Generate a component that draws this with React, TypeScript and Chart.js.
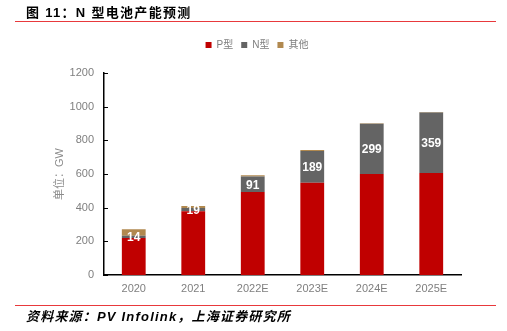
import React, { useEffect, useRef } from "react";
import { Chart, registerables } from "chart.js";

Chart.register(...registerables);

const categories = ["2020", "2021", "2022E", "2023E", "2024E", "2025E"];
const pType = [220, 379, 494, 548, 601, 607];
const nType = [14, 19, 91, 189, 299, 359];
const other = [38, 13, 8, 7, 3, 4];
const yTicks = [0, 200, 400, 600, 800, 1000, 1200];

const FONT = "'Liberation Sans', 'Noto Sans CJK SC', sans-serif";

const innerTicks = {
  id: "innerTicks",
  afterDraw(chart: any) {
    const y = chart.scales.y;
    const ctx = chart.ctx;
    ctx.save();
    ctx.strokeStyle = "#000";
    ctx.lineWidth = 1;
    y.ticks.forEach((t: any) => {
      const py = Math.round(y.getPixelForValue(t.value)) + 0.5;
      ctx.beginPath();
      ctx.moveTo(y.right, py);
      ctx.lineTo(y.right + 4, py);
      ctx.stroke();
    });
    ctx.restore();
  },
};

const nLabels = {
  id: "nLabels",
  afterDatasetsDraw(chart: any) {
    const meta = chart.getDatasetMeta(1);
    const ctx = chart.ctx;
    ctx.save();
    ctx.fillStyle = "#fff";
    ctx.font = `bold 12px ${FONT}`;
    ctx.textAlign = "center";
    ctx.textBaseline = "middle";
    meta.data.forEach((el: any, i: number) => {
      const { x, y, base } = el.getProps(["x", "y", "base"], true);
      ctx.fillText(String(nType[i]), x, (y + base) / 2 + 1);
    });
    ctx.restore();
  },
};

export default function App() {
  const ref = useRef<HTMLCanvasElement>(null);
  useEffect(() => {
    document.body.style.margin = "0";
    const chart = new Chart(ref.current as HTMLCanvasElement, {
      type: "bar",
      data: {
        labels: categories,
        datasets: [
          { label: "P型", data: pType, backgroundColor: "#C00000" },
          { label: "N型", data: nType, backgroundColor: "#646464" },
          { label: "其他", data: other, backgroundColor: "#B1894F" },
        ],
      },
      options: {
        animation: false,
        responsive: false,
        layout: { padding: { left: 53, right: 46, top: 32, bottom: 0 } },
        datasets: { bar: { categoryPercentage: 0.8, barPercentage: 0.5 } },
        plugins: {
          legend: {
            position: "top",
            labels: {
              boxWidth: 6,
              boxHeight: 6,
              padding: 8,
              color: "#7F7F7F",
              font: { size: 10, family: FONT },
            },
          },
          title: {
            display: true,
            text: "",
            weight: 500,
            font: { size: 1 },
            padding: { top: 12, bottom: 0 },
          },
          tooltip: { enabled: false },
        },
        scales: {
          x: {
            stacked: true,
            grid: { display: false, drawTicks: false },
            border: { display: true, color: "#000", width: 1.5 },
            ticks: { color: "#7F7F7F", font: { size: 11, family: FONT }, padding: 7 },
            afterFit: (s: any) => {
              s.height = 56;
            },
          },
          y: {
            stacked: true,
            min: 0,
            max: 1200,
            afterBuildTicks: (s: any) => {
              s.ticks = yTicks.map((v) => ({ value: v }));
            },
            grid: { display: false, drawTicks: false },
            border: { display: true, color: "#000", width: 1.5 },
            ticks: {
              color: "#7F7F7F",
              font: { size: 11, family: FONT },
              padding: 10,
              callback: (v: any) => String(v),
            },
            title: {
              display: true,
              text: "单位：GW",
              color: "#8C8C8C",
              font: { size: 11, family: FONT },
              padding: { top: 0, bottom: 0 },
            },
            afterFit: (s: any) => {
              s.width = 51;
            },
          },
        },
      },
      plugins: [innerTicks, nLabels],
    });
    return () => chart.destroy();
  }, []);

  const line: React.CSSProperties = {
    position: "absolute",
    left: 15,
    width: 481,
    height: 1,
    background: "#E8393C",
  };

  return (
    <div style={{ position: "relative", width: 507, height: 331, background: "#fff", overflow: "hidden" }}>
      <canvas ref={ref} width={507} height={331} style={{ position: "absolute", left: 0, top: 0 }} />
      <div
        style={{
          position: "absolute",
          left: 26,
          top: 4,
          fontFamily: FONT,
          fontWeight: "bold",
          fontSize: 13,
          letterSpacing: 1.3,
          lineHeight: "18px",
          color: "#000",
          whiteSpace: "nowrap",
        }}
      >
        图 11：N 型电池产能预测
      </div>
      <div style={{ ...line, top: 21 }} />
      <div style={{ ...line, top: 305 }} />
      <div
        style={{
          position: "absolute",
          left: 26,
          top: 308,
          fontFamily: FONT,
          fontWeight: "bold",
          fontStyle: "italic",
          fontSize: 13,
          letterSpacing: 1.2,
          lineHeight: "18px",
          color: "#000",
          whiteSpace: "nowrap",
        }}
      >
        资料来源：PV Infolink，上海证券研究所
      </div>
    </div>
  );
}
